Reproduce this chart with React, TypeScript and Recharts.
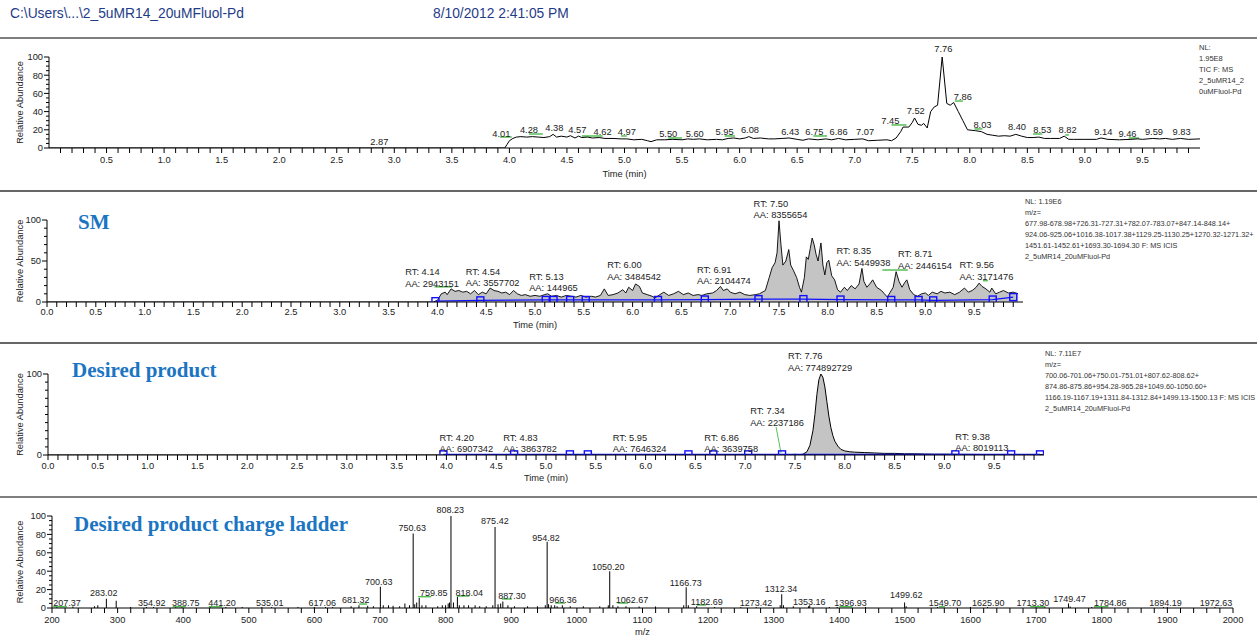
import React from 'react';
import { ComposedChart, Line, Area, Bar, XAxis, YAxis, ReferenceDot, ReferenceLine } from 'recharts';

const FONT = "'Liberation Sans', Arial, Helvetica, sans-serif";
const SERIF = "'Liberation Serif', 'Times New Roman', serif";
const INK = '#222';
const TITLE_BLUE = '#1b75c2';
const MARK_BLUE = '#1010ff';
const MARK_GREEN = '#55c055';

// ---------- panel 1: TIC (time, relative abundance) ----------
const ticTrace: number[][] = [
  [0, 0], [3.96, 0], [3.98, 4], [4.0, 8], [4.03, 10.5], [4.06, 12], [4.1, 12.5], [4.15, 12], [4.2, 12.5],
  [4.25, 12], [4.3, 11.5], [4.35, 12.5], [4.38, 15], [4.41, 12], [4.45, 13], [4.5, 12], [4.53, 13.5],
  [4.57, 11], [4.6, 13], [4.63, 11.5], [4.68, 12], [4.72, 11], [4.78, 11.5], [4.83, 10.5], [4.9, 10.5],
  [4.97, 10], [5.02, 10], [5.08, 9], [5.15, 9.5], [5.2, 8], [5.23, 7], [5.28, 9], [5.35, 9], [5.42, 9.5],
  [5.5, 9], [5.55, 10], [5.6, 9.5], [5.65, 10], [5.72, 9], [5.8, 9.5], [5.85, 9], [5.9, 10.5], [5.95, 11],
  [6.0, 10], [6.05, 11], [6.08, 12.5], [6.12, 10.5], [6.18, 11], [6.25, 10], [6.3, 10], [6.37, 10.5],
  [6.43, 11], [6.5, 9.5], [6.55, 8.5], [6.6, 10], [6.68, 9], [6.75, 10], [6.8, 9], [6.86, 10.5], [6.92, 9],
  [7.0, 9.5], [7.07, 10], [7.12, 8], [7.2, 8.5], [7.28, 9], [7.32, 8], [7.36, 11], [7.4, 18], [7.42, 23],
  [7.47, 23], [7.5, 28], [7.52, 33], [7.55, 26], [7.58, 25], [7.6, 27], [7.63, 22], [7.66, 40], [7.69, 45],
  [7.72, 47], [7.76, 100], [7.8, 49], [7.83, 47], [7.86, 50], [7.9, 40], [7.94, 30], [7.98, 20], [8.05, 19],
  [8.1, 18], [8.15, 15], [8.2, 14], [8.25, 13], [8.3, 13.5], [8.35, 13], [8.4, 15], [8.45, 13], [8.5, 11.5],
  [8.55, 11.5], [8.6, 12], [8.65, 10.5], [8.7, 10.5], [8.78, 10.5], [8.82, 13], [8.86, 9.5], [8.9, 9.5],
  [9.0, 9.5], [9.1, 9.5], [9.14, 11], [9.2, 9.5], [9.3, 9], [9.4, 9.5], [9.46, 10], [9.5, 9.5], [9.59, 10.5],
  [9.65, 10], [9.7, 10.5], [9.76, 9.5], [9.83, 10.5], [9.9, 9.5], [10.0, 10],
];
const ticLabels = ['2.87', '4.01', '4.28', '4.38', '4.57', '4.62', '4.97', '5.50', '5.60', '5.95', '6.08', '6.43',
  '6.75', '6.86', '7.07', '7.45', '7.52', '7.76', '7.86', '8.03', '8.40', '8.53', '8.82', '9.14', '9.46', '9.59', '9.83'];
const ticLabelX = [2.87, 3.93, 4.17, 4.39, 4.59, 4.81, 5.02, 5.38, 5.61, 5.87, 6.09, 6.44, 6.65, 6.86, 7.09,
  7.31, 7.53, 7.77, 7.94, 8.11, 8.41, 8.63, 8.85, 9.16, 9.37, 9.6, 9.84];
const ticLabelY = [3.3, 12.1, 16.5, 18.7, 16.5, 14.3, 14.3, 12.1, 12.1, 14.3, 16.5, 14.3, 14.3, 14.3, 14.3,
  26.4, 37.4, 105.5, 52.7, 22, 19.8, 16.5, 16.5, 14.3, 12.1, 14.3, 14.3];
// green peak markers [from, to, level]
const ticMarks: number[][] = [
  [3.92, 4.02, 12.1], [4.17, 4.29, 15.4], [4.63, 4.81, 13.2], [4.97, 5.02, 13.2], [5.38, 5.5, 11],
  [5.87, 5.96, 13.2], [6.64, 6.76, 13.2], [7.32, 7.45, 25.3], [7.87, 7.94, 51.6], [8.04, 8.11, 20.9],
  [8.55, 8.63, 15.4], [8.83, 8.86, 14.3], [9.38, 9.47, 11],
];

// ---------- panel 2: SM extracted ion chromatogram ----------
const smTrace: number[][] = [
  [0, 0], [3.96, 0], [4.0, 2], [4.04, 10], [4.08, 12], [4.1, 9], [4.14, 16], [4.18, 13], [4.22, 14], [4.26, 12],
  [4.3, 13], [4.34, 10], [4.38, 14], [4.42, 9], [4.46, 12], [4.5, 10], [4.54, 17], [4.58, 14], [4.62, 13],
  [4.66, 11], [4.7, 12], [4.74, 9], [4.78, 14], [4.82, 10], [4.86, 8], [4.9, 9], [4.95, 7], [5.0, 8], [5.05, 7],
  [5.1, 9], [5.13, 10], [5.17, 7], [5.22, 8], [5.27, 6], [5.32, 8], [5.37, 7], [5.42, 6], [5.47, 8], [5.52, 6],
  [5.58, 7], [5.62, 6], [5.67, 8], [5.71, 16], [5.75, 8], [5.8, 9], [5.85, 11], [5.9, 15], [5.93, 11], [5.96, 18],
  [6.0, 14], [6.03, 22], [6.07, 19], [6.1, 11], [6.15, 9], [6.2, 7], [6.23, 5], [6.28, 9], [6.32, 12], [6.37, 8],
  [6.42, 10], [6.47, 13], [6.52, 9], [6.57, 11], [6.62, 8], [6.67, 9], [6.71, 8], [6.76, 10], [6.82, 11],
  [6.86, 14], [6.9, 19], [6.93, 14], [6.97, 16], [7.0, 12], [7.05, 10], [7.1, 12], [7.15, 9], [7.2, 8], [7.26, 9],
  [7.3, 10], [7.36, 14], [7.4, 30], [7.43, 42], [7.46, 48], [7.48, 60], [7.5, 99], [7.52, 70], [7.54, 45],
  [7.57, 50], [7.6, 64], [7.62, 45], [7.65, 38], [7.68, 30], [7.71, 18], [7.73, 12], [7.76, 30], [7.78, 55],
  [7.8, 52], [7.82, 65], [7.84, 78], [7.86, 70], [7.88, 58], [7.9, 50], [7.92, 65], [7.93, 72], [7.95, 45],
  [7.97, 33], [7.99, 48], [8.01, 51], [8.04, 32], [8.07, 27], [8.1, 15], [8.13, 12], [8.17, 18], [8.2, 14],
  [8.24, 20], [8.28, 16], [8.32, 22], [8.35, 41], [8.37, 25], [8.4, 18], [8.43, 22], [8.46, 27], [8.5, 18],
  [8.55, 14], [8.58, 10], [8.61, 6], [8.64, 12], [8.67, 18], [8.7, 37], [8.73, 25], [8.76, 18], [8.79, 24],
  [8.81, 27], [8.84, 15], [8.88, 9], [8.92, 7], [8.96, 10], [9.0, 11], [9.03, 8], [9.07, 12], [9.12, 10],
  [9.16, 13], [9.2, 11], [9.25, 12], [9.3, 9], [9.35, 12], [9.4, 17], [9.44, 12], [9.48, 14], [9.52, 18],
  [9.55, 23], [9.58, 19], [9.62, 16], [9.66, 12], [9.68, 17], [9.72, 10], [9.76, 12], [9.8, 14], [9.85, 11],
  [9.9, 12], [9.95, 10],
];
const smBaseline: number[][] = [
  [3.98, 1], [4.44, 2], [5.11, 2.5], [5.19, 2.5], [5.36, 2.5], [5.52, 2.5], [6.26, 2.5], [6.74, 3], [7.29, 3.5],
  [7.75, 3.5], [8.13, 3], [8.65, 2.5], [8.93, 2.5], [9.08, 2], [9.69, 3], [9.9, 6],
];
const smRT = ['4.14', '4.54', '5.13', '6.00', '6.91', '7.50', '8.35', '8.71', '9.56'];
const smAA = ['2943151', '3557702', '144965', '3484542', '2104474', '8355654', '5449938', '2446154', '3171476'];
const smLabelX = [3.67, 4.29, 4.94, 5.74, 6.66, 7.24, 8.09, 8.72, 9.35];
const smLabelY = [32.7, 33.5, 27.4, 40.9, 35.6, 116, 58, 54.3, 40.9];
const smMarks: number[][] = [[3.97, 4.15, 18.5], [8.56, 8.82, 39], [9.59, 9.64, 26]];

// ---------- panel 3: desired product ----------
const prodTrace: number[][] = [
  [0, 0], [7.4, 0], [7.45, 0.5], [7.5, 0.8], [7.55, 0.5], [7.58, 1], [7.62, 4], [7.65, 12], [7.68, 30], [7.7, 50],
  [7.72, 75], [7.74, 93], [7.76, 100], [7.78, 96], [7.8, 84], [7.82, 66], [7.84, 48], [7.86, 34], [7.88, 24],
  [7.9, 17], [7.93, 11], [7.96, 7], [8.0, 5], [8.05, 4], [8.1, 3.5], [8.2, 3], [8.3, 2.5], [8.4, 2], [8.5, 2],
  [8.6, 1.5], [8.7, 1.5], [8.8, 1.2], [8.9, 1], [9.0, 1], [9.2, 0.8], [9.4, 0.6], [9.6, 0.5], [9.8, 0.5], [10.0, 0.4],
];
const prodBaseline: number[][] = [
  [3.97, 0.8], [4.68, 0.8], [5.24, 0.8], [5.42, 0.8], [6.43, 0.8], [6.68, 0.8], [7.03, 0.8], [7.37, 0.8],
  [9.11, 0.8], [9.67, 0.8], [9.96, 0.8],
];
const prodRT = ['4.20', '4.83', '5.95', '6.86', '7.34', '7.76', '9.38'];
const prodAA = ['6907342', '3863782', '7646324', '3639758', '2237186', '774892729', '8019113'];
const prodLabelX = [3.93, 4.57, 5.67, 6.59, 7.05, 7.43, 9.11];
const prodLabelY = [17.5, 17.5, 17.5, 17.5, 50.5, 118.5, 19];

// ---------- panel 4: mass spectrum (m/z, relative abundance) ----------
const spectrumPeaks: number[][] = [
  [207.37, 1.5], [283.02, 10], [354.92, 1], [388.75, 1.5], [441.2, 1.2], [535.01, 1], [617.06, 1], [681.32, 2.5],
  [700.63, 23], [750.63, 81], [759.85, 11], [808.23, 100], [818.04, 12], [875.42, 88], [887.3, 7], [954.82, 72],
  [966.36, 3], [1050.2, 40], [1062.67, 2], [1166.73, 22.5], [1182.69, 2], [1273.42, 1], [1312.34, 15],
  [1353.16, 2], [1396.93, 1], [1499.62, 6], [1549.7, 1], [1625.9, 1], [1713.3, 1], [1749.47, 5], [1784.86, 1],
  [1894.19, 1], [1972.63, 1],
];
const spectrumMinor: number[][] = [
  [232, 1.5], [265, 2], [270, 3], [298, 8], [320, 1], [344, 1], [398, 1], [465, 1], [490, 1], [520, 1], [575, 1],
  [600, 1], [628, 1], [656, 2], [668, 3], [690, 2], [705, 3], [713, 3], [720, 2.5], [730, 2], [738, 5], [745, 3],
  [753, 4], [756, 6], [764, 3], [770, 3], [788, 2], [795, 3], [800, 3], [804, 5], [806, 6], [812, 6], [821, 3],
  [828, 3], [835, 3], [845, 3], [852, 2], [862, 2], [872, 3], [880, 4], [884, 5], [895, 3], [905, 2], [925, 2],
  [940, 2], [952, 3], [957, 4], [961, 3], [970, 2], [978, 3], [990, 2], [1010, 2], [1035, 2], [1048, 3],
  [1055, 3], [1075, 2], [1095, 1.5], [1120, 1.5], [1163, 3], [1170, 3], [1210, 1], [1250, 1], [1310, 3],
  [1315, 3], [1330, 2], [1355, 3], [1385, 1], [1440, 1], [1502, 2], [1600, 1], [1700, 1], [1752, 1.5],
  [1800, 1], [1900, 1],
];
const specLabels = ['207.37', '283.02', '354.92', '388.75', '441.20', '535.01', '617.06', '681.32', '700.63',
  '750.63', '759.85', '808.23', '818.04', '875.42', '887.30', '954.82', '966.36', '1050.20', '1062.67',
  '1166.73', '1182.69', '1273.42', '1312.34', '1353.16', '1396.93', '1499.62', '1549.70', '1625.90', '1713.30',
  '1749.47', '1784.86', '1894.19', '1972.63'];
const specLabelX = [223, 279, 352, 404, 459, 532, 612, 663, 698, 749, 782, 807, 836, 875, 901, 953, 979, 1048,
  1084, 1166, 1198, 1273, 1311, 1354, 1417, 1502, 1561, 1627, 1695, 1751, 1813, 1897, 1974];
const specLabelY = [2.7, 12.8, 2.7, 2.7, 2.7, 2.7, 2.2, 4.9, 24.8, 83.5, 13.3, 103.8, 13.3, 90.8, 10, 73, 5.6,
  41.8, 5.6, 24.1, 3.8, 2, 17.6, 3.8, 2, 11, 2, 2, 2, 6.7, 2, 2, 2];
const specMarks: number[][] = [
  [202, 223, 1.4], [384, 404, 1.4], [439, 459, 1.4], [668, 680, 4.3], [758, 778, 12.3], [817, 836, 13],
  [886, 901, 9.8], [967, 982, 5.4], [1062, 1078, 5.4], [1183, 1197, 3.3], [1400, 1420, 1.4], [1552, 1561, 1.4],
  [1691, 1714, 1.4], [1788, 1810, 1.4],
];

// ---------- side notes ----------
const ticNotes = ['NL:', '1.95E8', 'TIC F:  MS', '2_5uMR14_2', '0uMFluol-Pd'];
const smNotes = ['NL: 1.19E6', 'm/z=', '677.98-678.98+726.31-727.31+782.07-783.07+847.14-848.14+',
  '924.06-925.06+1016.38-1017.38+1129.25-1130.25+1270.32-1271.32+', '1451.61-1452.61+1693.30-1694.30 F:  MS ICIS',
  '2_5uMR14_20uMFluol-Pd'];
const prodNotes = ['NL: 7.11E7', 'm/z=', '700.06-701.06+750.01-751.01+807.62-808.62+',
  '874.86-875.86+954.28-965.28+1049.60-1050.60+', '1166.19-1167.19+1311.84-1312.84+1499.13-1500.13 F:  MS ICIS',
  '2_5uMR14_20uMFluol-Pd'];

// ---------- helpers ----------
const range = (from: number, to: number, step: number) =>
  Array.from({ length: Math.round((to - from) / step) + 1 }, (_, i) => +(from + i * step).toFixed(3));
const isIn = (list: number[], v: number) => list.some((m) => Math.abs(m - v) < 1e-6);
const toPoints = (rows: number[][]) => rows.map(([x, v]) => ({ x, v }));

const timeMajors = range(0, 9.5, 0.5);
const ticTimeMajors = range(0.5, 9.5, 0.5);
const mzMajors = range(200, 2000, 100);

const xTick = (majors: number[], digits: number, labelDy: number) => (p: any) => {
  const { x, y, payload } = p;
  const major = isIn(majors, payload.value);
  return (
    <g>
      <line x1={x} y1={y} x2={x} y2={y + 5} stroke="#000" strokeWidth={1} />
      {major && (
        <text x={x} y={y + labelDy} textAnchor="middle" fontSize={9.3} fontFamily={FONT} fill={INK}>
          {payload.value.toFixed(digits)}
        </text>
      )}
    </g>
  );
};

const yTick = (majors: number[]) => (p: any) => {
  const { x, y, payload } = p;
  const major = isIn(majors, payload.value);
  return (
    <g>
      <line x1={x - (major ? 5 : 3)} y1={y} x2={x} y2={y} stroke="#000" />
      {major && (
        <text x={x - 6} y={y + 3.4} textAnchor="end" fontSize={9.3} fontFamily={FONT} fill={INK}>
          {payload.value}
        </text>
      )}
    </g>
  );
};

const yTitle = (p: any) => {
  const vb = p.viewBox || { y: 0, height: 0 };
  const cx = 23;
  const cy = vb.y + vb.height / 2;
  return (
    <text x={cx} y={cy} transform={`rotate(-90 ${cx} ${cy})`} textAnchor="middle" fontSize={9.3}
      fontFamily={FONT} fill={INK}>
      Relative Abundance
    </text>
  );
};

const xTitle = (text: string, dy: number) => (p: any) => {
  const vb = p.viewBox || { x: 0, y: 0, width: 0 };
  return (
    <text x={vb.x + vb.width / 2} y={vb.y + dy} textAnchor="middle" fontSize={9.3} fontFamily={FONT} fill={INK}>
      {text}
    </text>
  );
};

const peakLabel = (text: string, size: number) => (p: any) => (
  <text x={p.cx} y={p.cy} textAnchor="middle" fontSize={size} fontFamily={FONT} fill={INK}>{text}</text>
);

const rtLabel = (rt: string, aa: string) => (p: any) => (
  <text x={p.cx} y={p.cy} fontSize={9.3} fontFamily={FONT} fill={INK}>
    <tspan x={p.cx}>RT: {rt}</tspan>
    <tspan x={p.cx} dy={11.5}>AA: {aa}</tspan>
  </text>
);

const squareDot = (p: any) => (
  <rect key={`sq-${p.index}`} x={p.cx - 3.5} y={p.cy - 3.5} width={7} height={7} fill="none"
    stroke={MARK_BLUE} strokeWidth={1.4} />
);

const greenMarks = (marks: number[][]) =>
  marks.map(([a, b, lvl], i) => (
    <ReferenceLine key={`g-${i}`} segment={[{ x: a, y: lvl }, { x: b, y: lvl }]} stroke={MARK_GREEN}
      strokeWidth={1.5} ifOverflow="visible" />
  ));

const Notes = ({ x, y, lines, step, size }: { x: number; y: number; lines: string[]; step: number; size: number }) => (
  <>
    {lines.map((l, i) => (
      <text key={i} x={x} y={y + i * step} fontSize={size} fontFamily={FONT} fill="#333">{l}</text>
    ))}
  </>
);

const axisProps = {
  tickSize: 0,
  tickMargin: 0,
  tickLine: false,
  interval: 0 as const,
  allowDataOverflow: true,
  axisLine: { stroke: '#000', strokeWidth: 1 },
};

export default function App() {
  return (
    <div style={{ position: 'absolute', left: 0, top: 0, width: 1257, height: 638, background: '#fff',
      overflow: 'hidden', fontFamily: FONT }}>
      {/* TIC */}
      <div style={{ position: 'absolute', left: 0, top: 40 }}>
        <ComposedChart width={1257} height={145} margin={{ top: 17, right: 57, bottom: 0, left: 0 }}>
          <XAxis dataKey="x" type="number" domain={[0, 10]} ticks={range(0.1, 9.9, 0.1)} height={37}
            tick={xTick(ticTimeMajors, 1, 15)} label={xTitle('Time (min)', 29)} {...axisProps} />
          <YAxis type="number" domain={[0, 100]} ticks={range(0, 100, 5)} width={49}
            tick={yTick([0, 20, 40, 60, 80, 100])} label={yTitle} {...axisProps} />
          {greenMarks(ticMarks)}
          <Line data={toPoints(ticTrace)} dataKey="v" type="linear" stroke="#000" strokeWidth={1} dot={false}
            isAnimationActive={false} />
          {ticLabels.map((t, i) => (
            <ReferenceDot key={t} x={ticLabelX[i]} y={ticLabelY[i]} r={0} ifOverflow="visible"
              shape={peakLabel(t, 9.3)} />
          ))}
        </ComposedChart>
      </div>

      {/* SM */}
      <div style={{ position: 'absolute', left: 0, top: 195 }}>
        <ComposedChart width={1257} height={140} margin={{ top: 25, right: 234, bottom: 0, left: 0 }}>
          <XAxis dataKey="x" type="number" domain={[0, 10]} ticks={range(0, 9.9, 0.1)} height={33}
            tick={xTick(timeMajors, 1, 13)} label={xTitle('Time (min)', 26)} {...axisProps} />
          <YAxis type="number" domain={[0, 100]} ticks={range(0, 100, 10)} width={47}
            tick={yTick([0, 50, 100])} label={yTitle} {...axisProps} />
          <Area data={toPoints(smTrace)} dataKey="v" type="linear" stroke="#000" strokeWidth={0.9} fill="#c4c4c4"
            fillOpacity={1} baseValue={0} dot={false} isAnimationActive={false} />
          <Line data={toPoints(smBaseline)} dataKey="v" type="linear" stroke={MARK_BLUE} strokeWidth={1.3}
            dot={squareDot} isAnimationActive={false} />
          {greenMarks(smMarks)}
          {smRT.map((rt, i) => (
            <ReferenceDot key={rt} x={smLabelX[i]} y={smLabelY[i]} r={0} ifOverflow="visible"
              shape={rtLabel(rt, smAA[i])} />
          ))}
        </ComposedChart>
      </div>

      {/* Desired product */}
      <div style={{ position: 'absolute', left: 0, top: 347 }}>
        <ComposedChart width={1257} height={140} margin={{ top: 27, right: 213, bottom: 0, left: 0 }}>
          <XAxis dataKey="x" type="number" domain={[0, 10]} ticks={range(0, 9.9, 0.1)} height={32}
            tick={xTick(timeMajors, 1, 14)} label={xTitle('Time (min)', 26)} {...axisProps} />
          <YAxis type="number" domain={[0, 100]} ticks={range(0, 100, 10)} width={48}
            tick={yTick([0, 100])} label={yTitle} {...axisProps} />
          <Area data={toPoints(prodTrace)} dataKey="v" type="linear" stroke="#000" strokeWidth={1} fill="#c4c4c4"
            fillOpacity={1} baseValue={0} dot={false} isAnimationActive={false} />
          <Line data={toPoints(prodBaseline)} dataKey="v" type="linear" stroke={MARK_BLUE} strokeWidth={1.3}
            dot={squareDot} isAnimationActive={false} />
          <ReferenceLine segment={[{ x: 7.31, y: 34.6 }, { x: 7.36, y: 2.5 }]} stroke={MARK_GREEN} strokeWidth={1}
            ifOverflow="visible" />
          {prodRT.map((rt, i) => (
            <ReferenceDot key={rt} x={prodLabelX[i]} y={prodLabelY[i]} r={0} ifOverflow="visible"
              shape={rtLabel(rt, prodAA[i])} />
          ))}
        </ComposedChart>
      </div>

      {/* Charge ladder spectrum */}
      <div style={{ position: 'absolute', left: 0, top: 500 }}>
        <ComposedChart width={1257} height={138} margin={{ top: 16, right: 24, bottom: 0, left: 0 }}
          data={[...spectrumPeaks, ...spectrumMinor].sort((a, b) => a[0] - b[0]).map(([mz, i]) => ({ x: mz, v: i }))}>
          <XAxis dataKey="x" type="number" domain={[200, 2000]} ticks={range(200, 2000, 20)} height={30}
            tick={xTick(mzMajors, 0, 15)} label={xTitle('m/z', 27)} {...axisProps} />
          <YAxis type="number" domain={[0, 100]} ticks={range(0, 100, 5)} width={52}
            tick={yTick([0, 20, 40, 60, 80, 100])} label={yTitle} {...axisProps} />
          <Bar dataKey="v" fill="#000" barSize={1} isAnimationActive={false} />
          {greenMarks(specMarks)}
          {specLabels.map((t, i) => (
            <ReferenceDot key={t} x={specLabelX[i]} y={specLabelY[i]} r={0} ifOverflow="visible"
              shape={peakLabel(t, 9)} />
          ))}
        </ComposedChart>
      </div>

      {/* page furniture */}
      <svg width={1257} height={638} style={{ position: 'absolute', left: 0, top: 0, pointerEvents: 'none' }}>
        <text x={10} y={18} fontSize={13.8} fontFamily={FONT} fill="#1f3c88">C:\Users\...\2_5uMR14_20uMFluol-Pd</text>
        <text x={433} y={18} fontSize={13.8} fontFamily={FONT} fill="#1f3c88">8/10/2012 2:41:05 PM</text>
        <line x1={0} y1={38} x2={1257} y2={38} stroke="#000" strokeWidth={1} />
        <line x1={0} y1={191} x2={1257} y2={191} stroke="#666" strokeWidth={2} />
        <line x1={0} y1={343} x2={1257} y2={343} stroke="#666" strokeWidth={2} />
        <line x1={0} y1={497} x2={1257} y2={497} stroke="#000" strokeWidth={1.2} />

        <text x={78} y={229} fontSize={21} fontWeight="bold" fontFamily={SERIF} fill={TITLE_BLUE}>SM</text>
        <text x={72} y={377} fontSize={21} fontWeight="bold" fontFamily={SERIF} fill={TITLE_BLUE}>Desired product</text>
        <text x={74} y={531} fontSize={21} fontWeight="bold" fontFamily={SERIF} fill={TITLE_BLUE}>
          Desired product charge ladder
        </text>

        <Notes x={1199} y={50} lines={ticNotes} step={11} size={7.5} />
        <Notes x={1025} y={204} lines={smNotes} step={11} size={7.3} />
        <Notes x={1045} y={356} lines={prodNotes} step={11} size={7.3} />
      </svg>
    </div>
  );
}
